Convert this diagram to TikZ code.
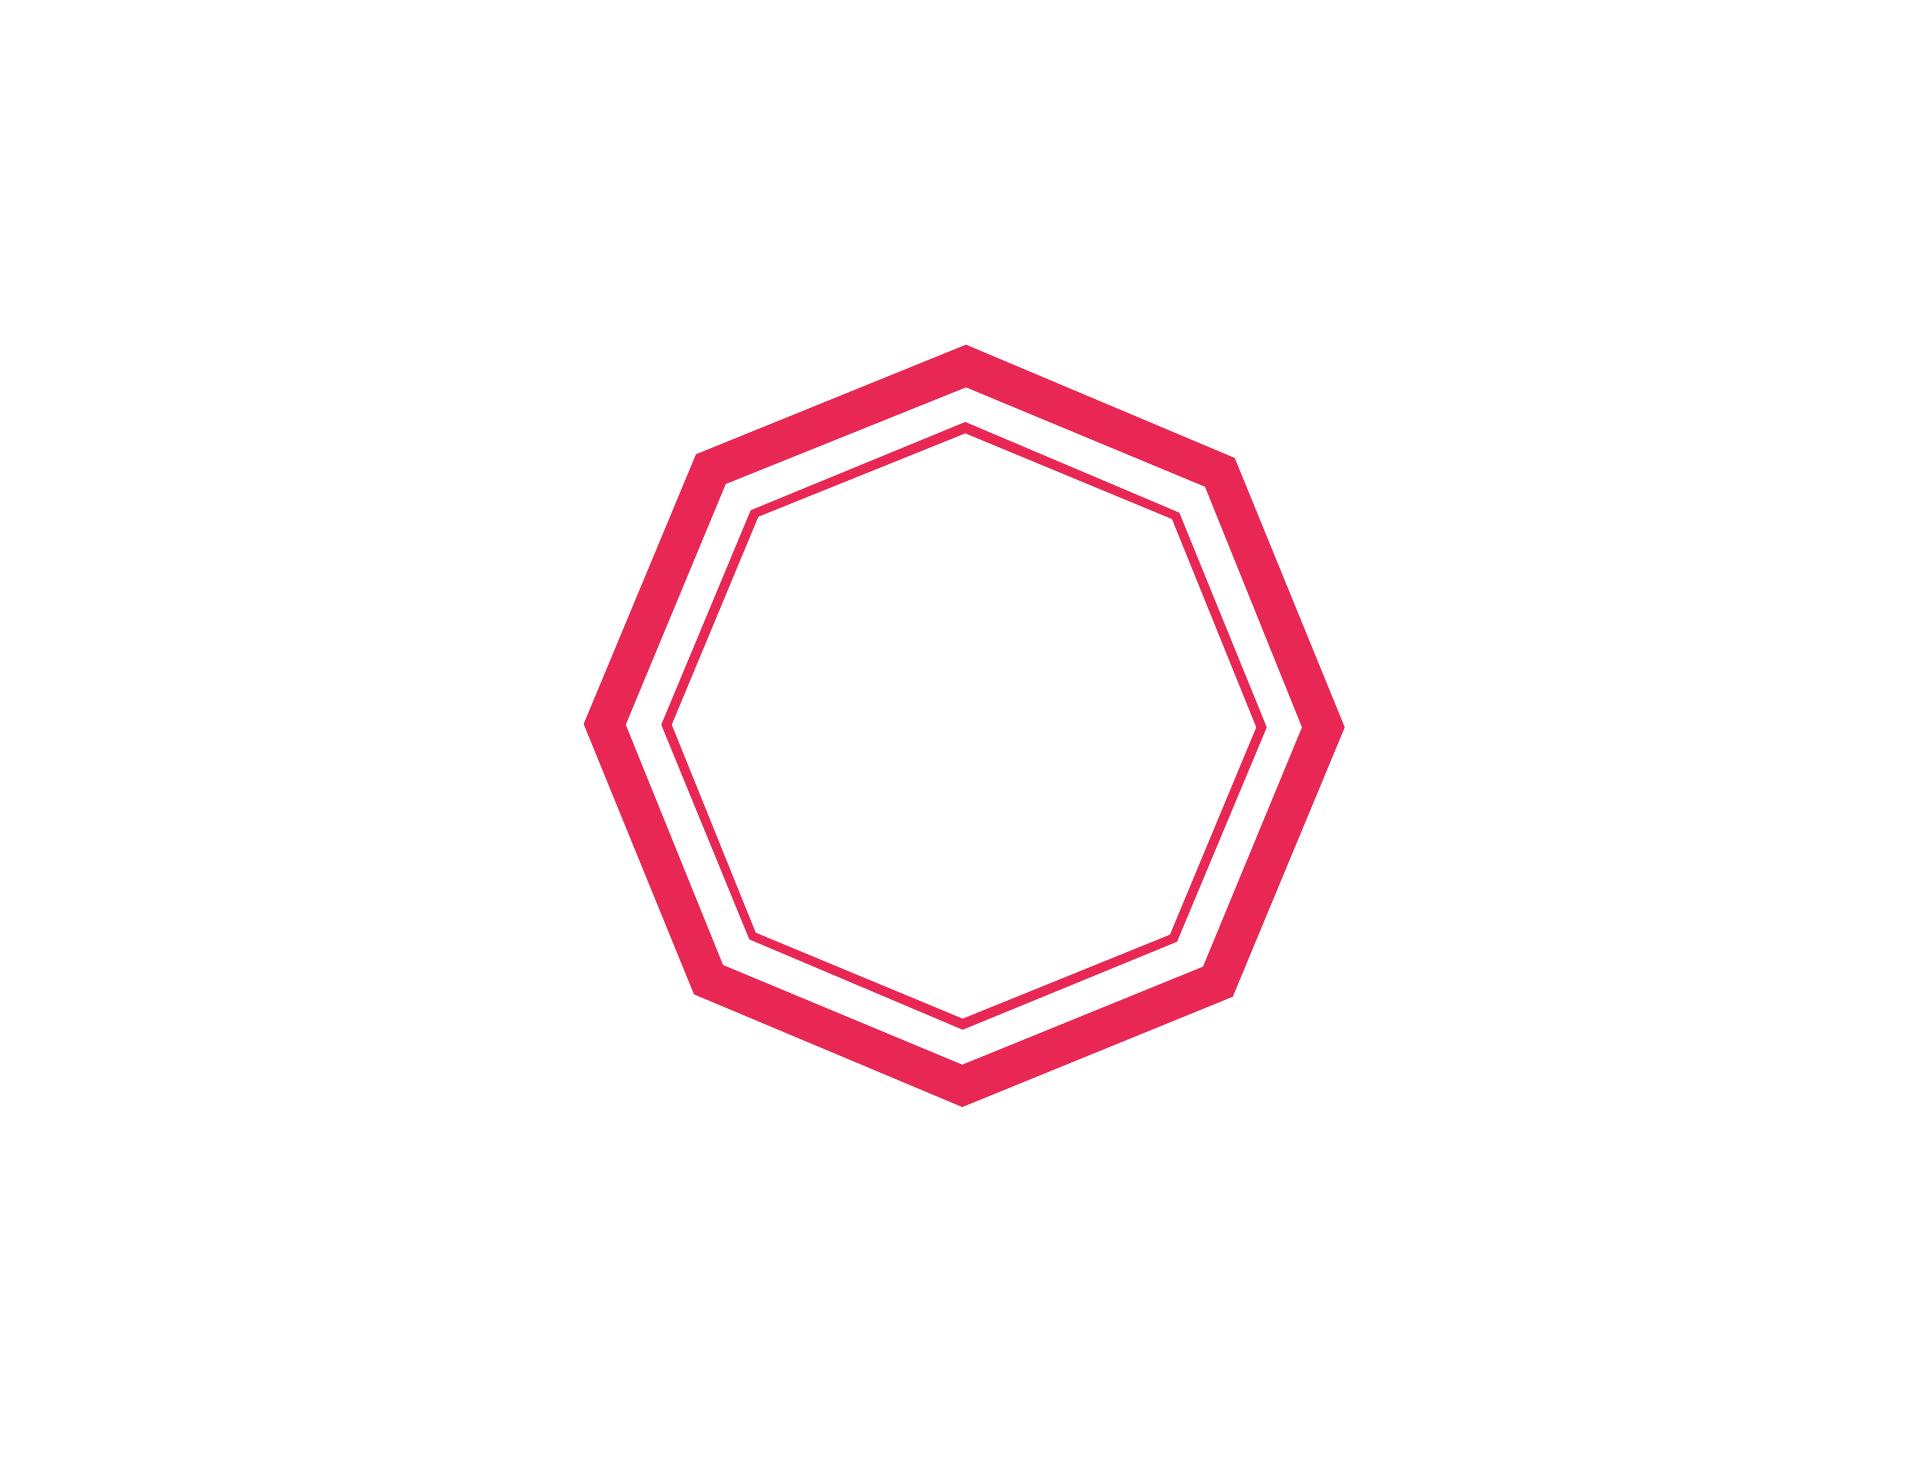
\documentclass[tikz,border=0pt]{standalone}
\definecolor{ringred}{HTML}{E82754}
\tikzset{ring/.style={fill=ringred,even odd rule,draw=none}}
\begin{document}
\begin{tikzpicture}[x=0.05cm,y=-0.05cm]
\useasboundingbox (0,0) rectangle (1920,1461);
\fill[white] (0,0) rectangle (1920,1461);
\path[ring]
 (966,344.7) -- (1234.7,458) -- (1344.7,727.3) -- (1232.7,996.7) -- (962.3,1107) -- (694,994.3) -- (583.7,724) -- (696,454.3) -- cycle
 (966,387.3) -- (1205,486.7) -- (1302,727.3) -- (1203,966.7) -- (962.3,1064.7) -- (723,965) -- (625.7,724.7) -- (725.7,484) -- cycle;
\path[ring]
 (965.3,422) -- (1179.3,512.7) -- (1266.7,727.3) -- (1177,941.7) -- (962.7,1029.7) -- (749.3,939.3) -- (661.3,724.7) -- (750.7,510.3) -- cycle
 (965.3,433.3) -- (1172,519) -- (1256.3,727.3) -- (1170,934.7) -- (962.7,1018.7) -- (755.7,932.7) -- (671.7,724.7) -- (758.3,516.7) -- cycle;
\end{tikzpicture}
\end{document}
